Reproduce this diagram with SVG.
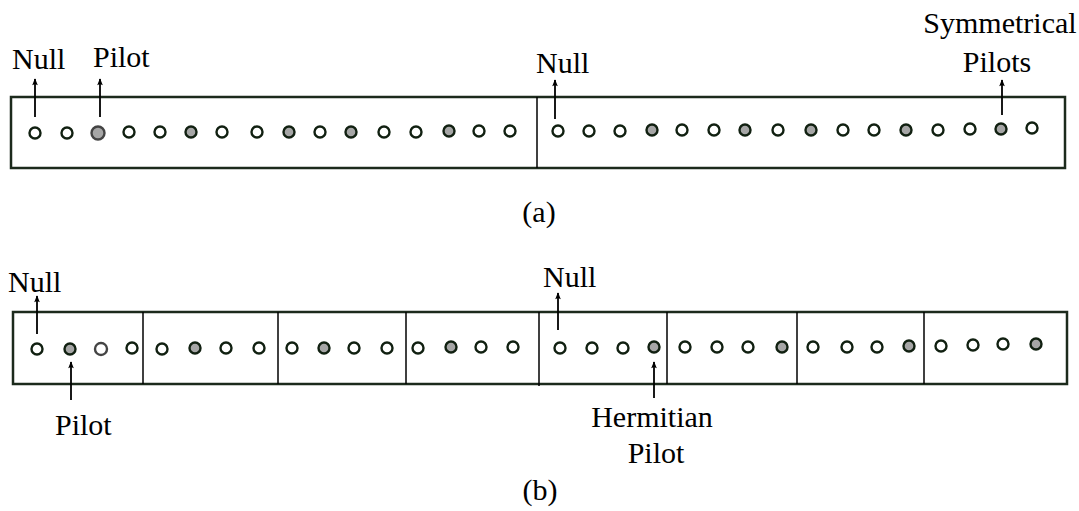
<svg xmlns="http://www.w3.org/2000/svg" width="1079" height="511" viewBox="0 0 1079 511">
<style>
.t{font-family:"Liberation Serif","Times New Roman",serif;font-size:30px;fill:#000}
.box{fill:none;stroke:#1c2a1c;stroke-width:2.5}
.div{stroke:#000;stroke-width:1.5}
.c{fill:#fff;stroke:#112011;stroke-width:2.4}
.p{fill:#a6a6a6;stroke:#112011;stroke-width:2.4}
.arr{stroke:#000;stroke-width:1.8;fill:none;marker-end:url(#ah)}
</style>
<defs>
<marker id="ah" viewBox="0 0 10 10" refX="9" refY="5" markerWidth="11" markerHeight="7" markerUnits="userSpaceOnUse" orient="auto">
<path d="M0,1 L10,5 L0,9 L2,5 Z" fill="#000"/>
</marker>
</defs>
<rect width="1079" height="511" fill="#fff"/>

<g id="frame-a">
<rect class="box" x="11" y="97" width="1054" height="71"/>
<line class="div" x1="537" y1="97" x2="537" y2="168"/>
</g>
<g id="subcarriers-a">
<circle class="c" cx="35" cy="133" r="5.5"/>
<circle class="c" cx="67" cy="133" r="5.5"/>
<circle class="p" cx="98" cy="133" r="6.5" style="stroke:#444"/>
<circle class="c" cx="129" cy="132" r="5.5"/>
<circle class="c" cx="160" cy="132" r="5.5"/>
<circle class="p" cx="191" cy="132" r="5.5"/>
<circle class="c" cx="222" cy="132" r="5.5"/>
<circle class="c" cx="257" cy="132" r="5.5"/>
<circle class="p" cx="289" cy="132" r="5.5"/>
<circle class="c" cx="320" cy="132" r="5.5"/>
<circle class="p" cx="351" cy="132" r="5.5"/>
<circle class="c" cx="384" cy="132" r="5.5"/>
<circle class="c" cx="416" cy="132" r="5.5"/>
<circle class="p" cx="449" cy="131" r="5.5"/>
<circle class="c" cx="479" cy="131" r="5.5"/>
<circle class="c" cx="510" cy="131" r="5.5"/>
<circle class="c" cx="558" cy="131" r="5.5"/>
<circle class="c" cx="589" cy="131" r="5.5"/>
<circle class="c" cx="620" cy="131" r="5.5"/>
<circle class="p" cx="652" cy="130" r="5.5"/>
<circle class="c" cx="682" cy="130" r="5.5"/>
<circle class="c" cx="714" cy="130" r="5.5"/>
<circle class="p" cx="745" cy="130" r="5.5"/>
<circle class="c" cx="778" cy="130" r="5.5"/>
<circle class="p" cx="811" cy="130" r="5.5"/>
<circle class="c" cx="843" cy="130" r="5.5"/>
<circle class="c" cx="874" cy="130" r="5.5"/>
<circle class="p" cx="906" cy="130" r="5.5"/>
<circle class="c" cx="938" cy="130" r="5.5"/>
<circle class="c" cx="970" cy="129" r="5.5"/>
<circle class="p" cx="1001" cy="129" r="5.5"/>
<circle class="c" cx="1032" cy="128" r="5.5"/>
</g>
<g id="labels-a">
<text class="t" x="12" y="69">Null</text>
<text class="t" x="93" y="67">Pilot</text>
<text class="t" x="536" y="73">Null</text>
<text class="t" x="1000" y="33" text-anchor="middle">Symmetrical</text>
<text class="t" x="997" y="72" text-anchor="middle">Pilots</text>
<text class="t" x="539" y="222" text-anchor="middle">(a)</text>
</g>

<g id="frame-b">
<rect class="box" x="13" y="312" width="1054" height="72"/>
<line class="div" x1="143" y1="312" x2="143" y2="384"/>
<line class="div" x1="278" y1="312" x2="278" y2="384"/>
<line class="div" x1="406" y1="312" x2="406" y2="384"/>
<line class="div" x1="539" y1="312" x2="539" y2="386"/>
<line class="div" x1="667" y1="312" x2="667" y2="384"/>
<line class="div" x1="797" y1="312" x2="797" y2="384"/>
<line class="div" x1="924" y1="312" x2="924" y2="384"/>
</g>
<g id="subcarriers-b">
<circle class="c" cx="37" cy="349" r="5.5"/>
<circle class="p" cx="70" cy="349" r="5.5"/>
<circle class="c" cx="101" cy="349" r="6" style="stroke:#444"/>
<circle class="c" cx="132" cy="348" r="5.5"/>
<circle class="c" cx="162" cy="349" r="5.5"/>
<circle class="p" cx="195" cy="348" r="5.5"/>
<circle class="c" cx="226" cy="348" r="5.5"/>
<circle class="c" cx="259" cy="348" r="5.5"/>
<circle class="c" cx="292" cy="348" r="5.5"/>
<circle class="p" cx="324" cy="348" r="5.5"/>
<circle class="c" cx="354" cy="348" r="5.5"/>
<circle class="c" cx="387" cy="348" r="5.5"/>
<circle class="c" cx="418" cy="348" r="5.5"/>
<circle class="p" cx="451" cy="347" r="5.5"/>
<circle class="c" cx="481" cy="347" r="5.5"/>
<circle class="c" cx="513" cy="347" r="5.5"/>
<circle class="c" cx="560" cy="348" r="5.5"/>
<circle class="c" cx="592" cy="348" r="5.5"/>
<circle class="c" cx="623" cy="348" r="5.5"/>
<circle class="p" cx="654" cy="347" r="5.5"/>
<circle class="c" cx="685" cy="347" r="5.5"/>
<circle class="c" cx="717" cy="347" r="5.5"/>
<circle class="c" cx="748" cy="347" r="5.5"/>
<circle class="p" cx="782" cy="347" r="5.5"/>
<circle class="c" cx="813" cy="347" r="5.5"/>
<circle class="c" cx="847" cy="347" r="5.5"/>
<circle class="c" cx="877" cy="347" r="5.5"/>
<circle class="p" cx="909" cy="346" r="5.5"/>
<circle class="c" cx="941" cy="346" r="5.5"/>
<circle class="c" cx="973" cy="345" r="5.5"/>
<circle class="c" cx="1003" cy="344" r="5.5"/>
<circle class="p" cx="1036" cy="344" r="5.5"/>
</g>
<g id="labels-b">
<text class="t" x="8" y="292">Null</text>
<text class="t" x="55" y="435">Pilot</text>
<text class="t" x="543" y="287">Null</text>
<text class="t" x="652" y="427" text-anchor="middle">Hermitian</text>
<text class="t" x="656" y="463" text-anchor="middle">Pilot</text>
<text class="t" x="540" y="500" text-anchor="middle">(b)</text>
</g>

<g id="connectors">
<line class="arr" x1="35" y1="117" x2="35" y2="79"/>
<line class="arr" x1="100" y1="117" x2="100" y2="79"/>
<line class="arr" x1="555" y1="119" x2="555" y2="80"/>
<line class="arr" x1="1002" y1="115" x2="1002" y2="80"/>
<line class="arr" x1="37" y1="334" x2="37" y2="296"/>
<line class="arr" x1="71" y1="400" x2="71" y2="362"/>
<line class="arr" x1="558" y1="330" x2="558" y2="293"/>
<line class="arr" x1="654" y1="398" x2="654" y2="362"/>
</g>
</svg>
